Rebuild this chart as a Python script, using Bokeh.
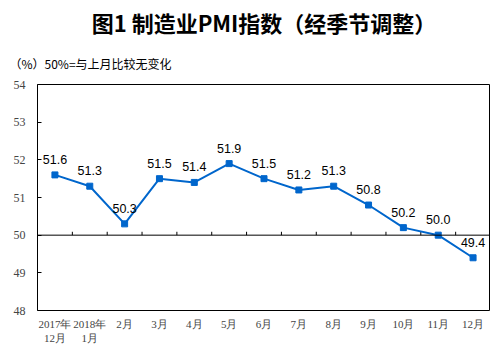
from bokeh.plotting import figure
from bokeh.models import Range1d, Span, Title, FixedTicker, ColumnDataSource
from bokeh.core.properties import value
from bokeh.embed import file_html
from bokeh.resources import INLINE

months = ["2017年\n12月", "2018年\n1月", "2月", "3月", "4月", "5月", "6月",
          "7月", "8月", "9月", "10月", "11月", "12月"]
pmi = [51.6, 51.3, 50.3, 51.5, 51.4, 51.9, 51.5, 51.2, 51.3, 50.8, 50.2, 50.0, 49.4]
y_ticks = [48, 49, 50, 51, 52, 53, 54]

xs = list(range(len(months)))
src = ColumnDataSource(dict(x=xs, y=pmi, lab=[f"{v:.1f}" for v in pmi]))

p = figure(width=490, height=348, output_backend="svg", toolbar_location=None,
           x_range=Range1d(-0.5, len(months) - 0.5), y_range=Range1d(48, 54),
           min_border_left=37, min_border_right=0, min_border_bottom=38)
p.title = None

sub = Title(text="（%）50%=与上月比较无变化", text_font="Noto Sans CJK SC",
            text_font_size="12px", text_font_style="normal", text_color="black",
            align="left", offset=-37, standoff=7, padding=9)
p.add_layout(sub, "above")
main = Title(text="图1 制造业PMI指数（经季节调整）", text_font="Noto Sans CJK SC",
             text_font_size="22px", text_font_style="bold", text_color="black",
             align="center", offset=-8, standoff=6)
p.add_layout(main, "above")

p.outline_line_color = "black"
p.outline_line_width = 1
p.xgrid.grid_line_color = None
p.ygrid.grid_line_color = None

p.yaxis.ticker = FixedTicker(ticks=y_ticks)
p.yaxis.axis_line_color = None
p.yaxis.major_tick_in = 4
p.yaxis.major_tick_out = 0
p.yaxis.minor_tick_line_color = None
p.yaxis.major_tick_line_color = "black"
p.yaxis.major_label_text_font = "Liberation Serif"
p.yaxis.major_label_text_font_size = "12px"
p.yaxis.major_label_standoff = 12

p.xaxis.ticker = FixedTicker(ticks=xs)
p.xaxis.major_label_overrides = {i: m for i, m in enumerate(months)}
p.xaxis.axis_line_color = None
p.xaxis.major_tick_line_color = None
p.xaxis.minor_tick_line_color = None
p.xaxis.major_tick_out = 0
p.xaxis.major_tick_in = 0
p.xaxis.major_label_text_font = "Liberation Serif"
p.xaxis.major_label_text_font_size = "11px"
p.xaxis.major_label_standoff = 7

p.add_layout(Span(location=50, dimension="width", line_color="black", line_width=1))
bx = [i + 0.5 for i in xs[:-1]]
p.segment(x0=bx, x1=bx, y0=[50] * len(bx), y1=[50.09] * len(bx),
          line_color="black", line_width=1)

p.line("x", "y", source=src, line_color="#0066CC", line_width=2)
p.scatter("x", "y", source=src, marker="square", size=6, color="#0066CC")
p.text("x", "y", text="lab", source=src, text_align="center", text_baseline="bottom",
       y_offset=-11, text_font=value("Liberation Sans"), text_font_size="12.5px",
       text_color="black")

open("out.html", "w").write(file_html(p, INLINE))
